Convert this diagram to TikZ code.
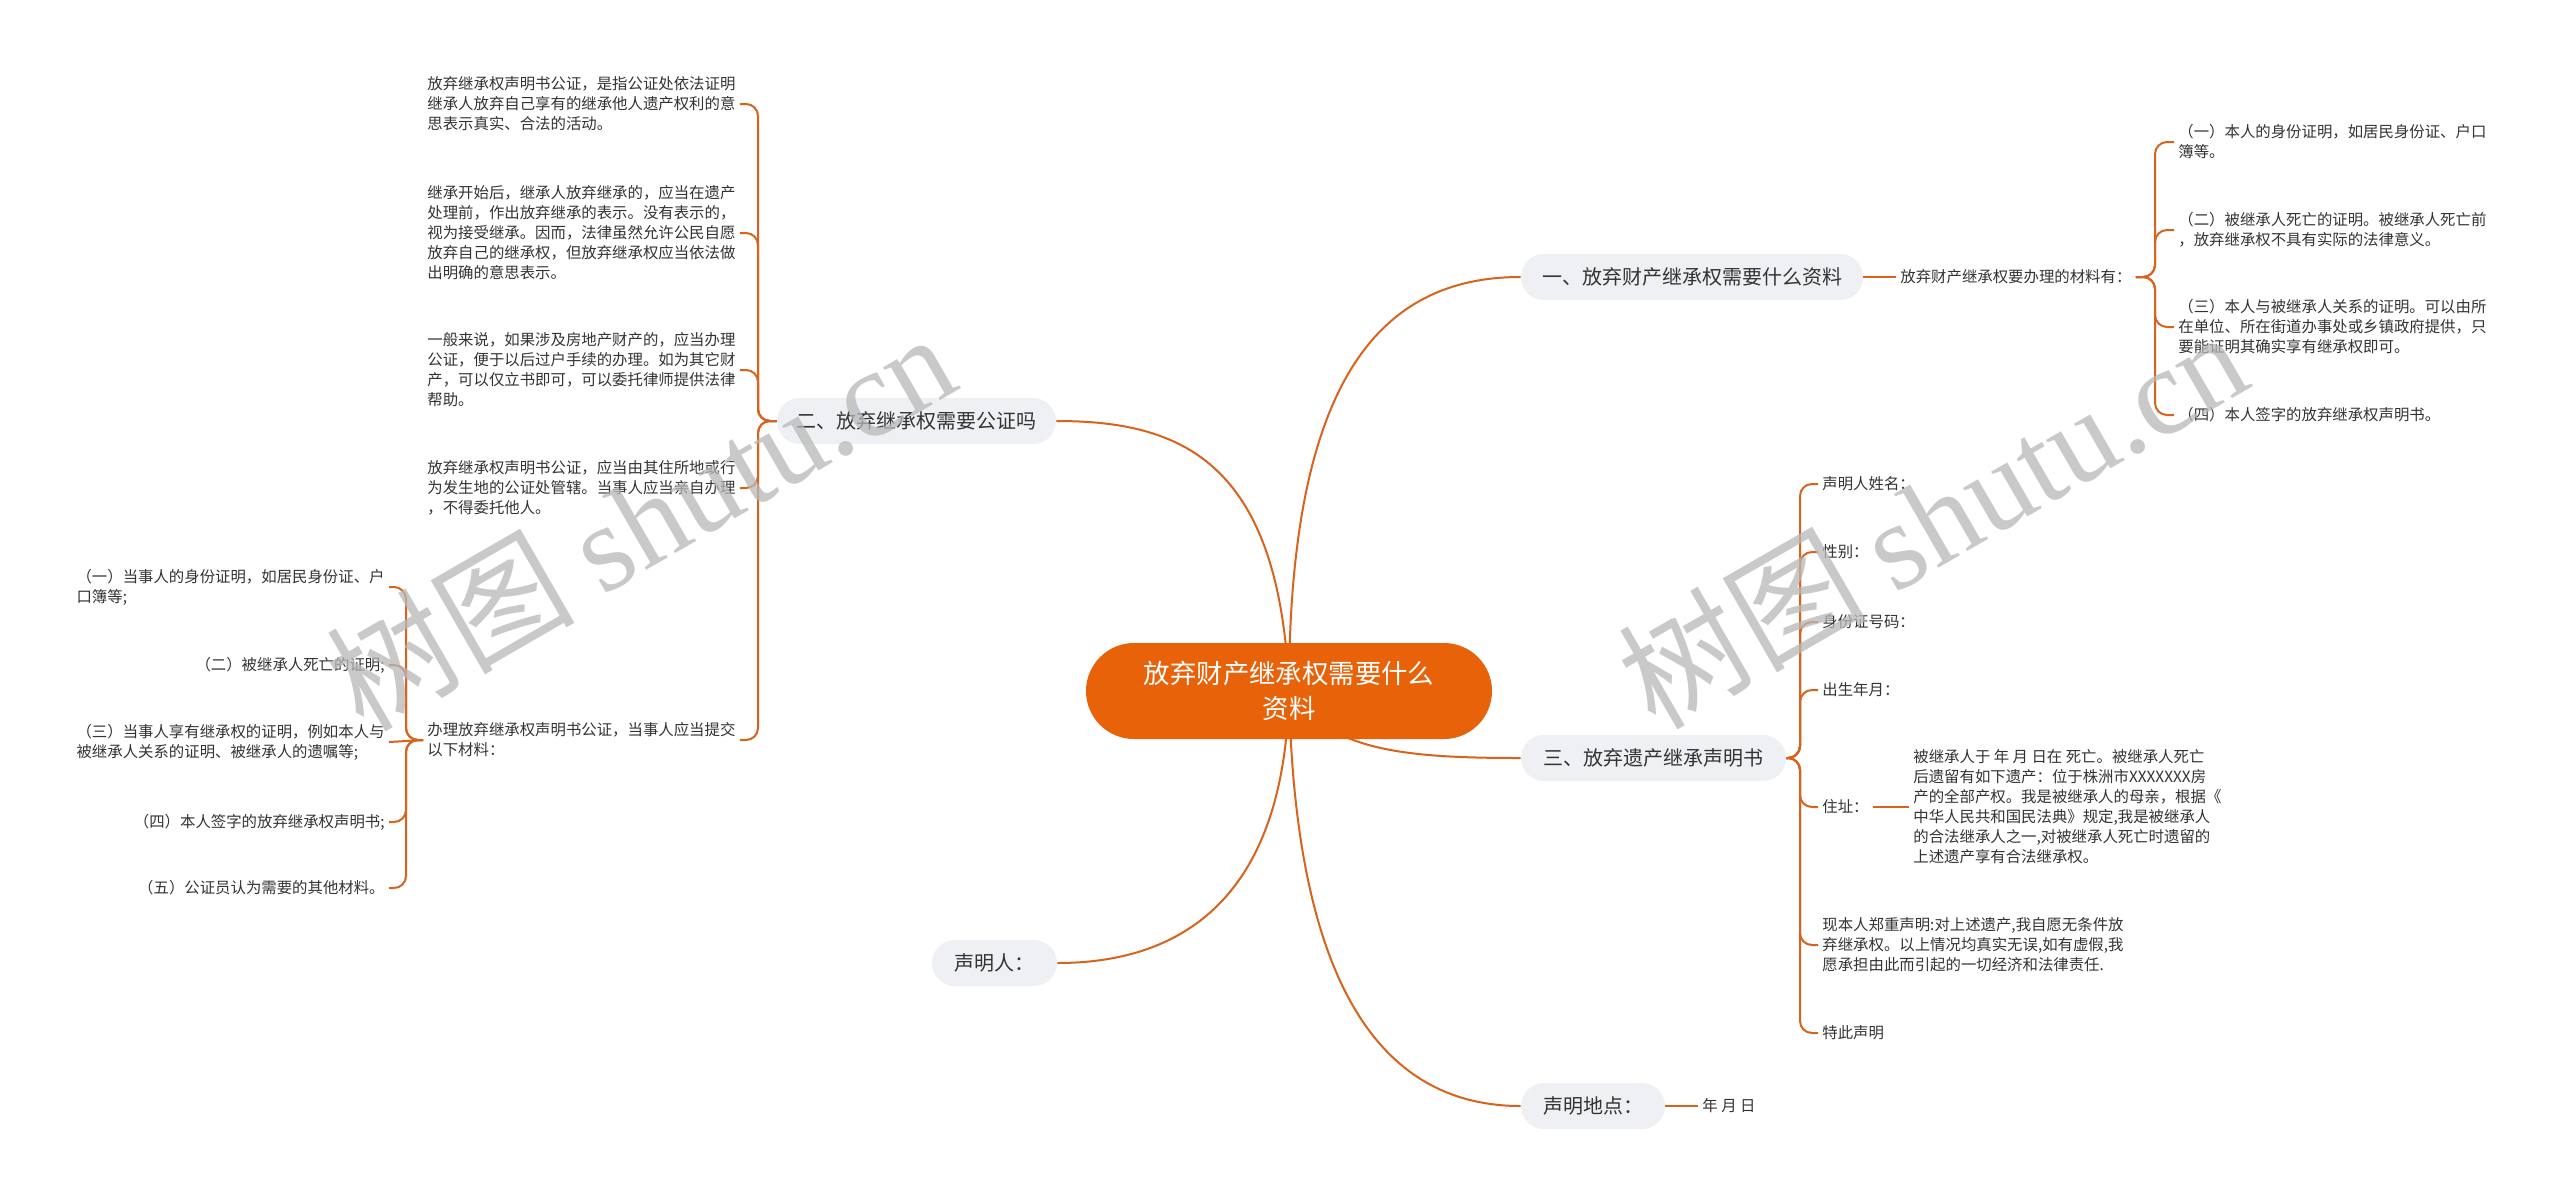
\documentclass[tikz,border=0pt]{standalone}
\usepackage{fontspec}
\setmainfont{Noto Sans CJK SC}
\newfontfamily\wmserif{Liberation Serif}
\usetikzlibrary{backgrounds}
\definecolor{lineor}{HTML}{D9621C}
\definecolor{rootor}{HTML}{E8620A}
\definecolor{boxgray}{HTML}{EEF0F3}
\definecolor{txt}{HTML}{333333}
\begin{document}
\begin{tikzpicture}[x=0.5pt,y=-0.5pt,
  conn/.style={draw=lineor, line width=1pt},
  bracelink/.style={conn, rounded corners=6pt},
  rootnode/.style={fill=rootor, text=white, rounded corners=24pt, minimum height=48pt, minimum width=203pt, align=center, font=\fontsize{13.2}{17.5}\selectfont, inner sep=0pt},
  branch/.style={fill=boxgray, text=txt, rounded corners=11.5pt, minimum height=23pt, inner sep=0pt, font=\fontsize{10}{12}\selectfont},
  leaf/.style={text=txt, inner xsep=2pt, inner ysep=0pt, align=left, font=\fontsize{7.7}{10}\selectfont},
  wmark/.style={rotate=30, text=black!28, text opacity=0.75, font=\fontsize{62}{62}\selectfont},
]
\useasboundingbox (0,0) rectangle (2560,1196);

% root and branches
\node[rootnode] (root) at (1289,691) {放弃财产继承权需要什么\\资料};
\node[branch, minimum width=171pt] (b1) at (1692,277) {一、放弃财产继承权需要什么资料};
\node[branch, minimum width=139.5pt] (b2) at (916.5,421) {二、放弃继承权需要公证吗};
\node[branch, minimum width=132.5pt] (b3) at (1653.5,758) {三、放弃遗产继承声明书};
\node[branch, minimum width=62.5pt] (b4) at (994.5,963) {声明人：};
\node[branch, minimum width=72pt] (b5) at (1593,1106) {声明地点：};

% branch 1
\node[leaf, anchor=west] (a1) at (1896,277) {放弃财产继承权要办理的材料有：};
\node[leaf, anchor=west] (r1) at (2174,142) {（一）本人的身份证明，如居民身份证、户口\\簿等。};
\node[leaf, anchor=west] (r2) at (2174,230) {（二）被继承人死亡的证明。被继承人死亡前\\，放弃继承权不具有实际的法律意义。};
\node[leaf, anchor=west] (r3) at (2174,327) {（三）本人与被继承人关系的证明。可以由所\\在单位、所在街道办事处或乡镇政府提供，只\\要能证明其确实享有继承权即可。};
\node[leaf, anchor=west] (r4) at (2174,415) {（四）本人签字的放弃继承权声明书。};

% branch 2
\node[leaf, anchor=west] (l1) at (423,104) {放弃继承权声明书公证，是指公证处依法证明\\继承人放弃自己享有的继承他人遗产权利的意\\思表示真实、合法的活动。};
\node[leaf, anchor=west] (l2) at (423,233) {继承开始后，继承人放弃继承的，应当在遗产\\处理前，作出放弃继承的表示。没有表示的，\\视为接受继承。因而，法律虽然允许公民自愿\\放弃自己的继承权，但放弃继承权应当依法做\\出明确的意思表示。};
\node[leaf, anchor=west] (l3) at (423,370) {一般来说，如果涉及房地产财产的，应当办理\\公证，便于以后过户手续的办理。如为其它财\\产，可以仅立书即可，可以委托律师提供法律\\帮助。};
\node[leaf, anchor=west] (l4) at (423,488) {放弃继承权声明书公证，应当由其住所地或行\\为发生地的公证处管辖。当事人应当亲自办理\\，不得委托他人。};
\node[leaf, anchor=west] (l5) at (423,740) {办理放弃继承权声明书公证，当事人应当提交\\以下材料：};
\node[leaf, anchor=east] (m1) at (389,587) {（一）当事人的身份证明，如居民身份证、户\\口簿等;};
\node[leaf, anchor=east] (m2) at (389,665) {（二）被继承人死亡的证明;};
\node[leaf, anchor=east] (m3) at (389,742) {（三）当事人享有继承权的证明，例如本人与\\被继承人关系的证明、被继承人的遗嘱等;};
\node[leaf, anchor=east] (m4) at (389,822) {（四）本人签字的放弃继承权声明书;};
\node[leaf, anchor=east] (m5) at (389,888) {（五）公证员认为需要的其他材料。};

% branch 3
\node[leaf, anchor=west] (s1) at (1818,484) {声明人姓名：};
\node[leaf, anchor=west] (s2) at (1818,552) {性别：};
\node[leaf, anchor=west] (s3) at (1818,622) {身份证号码：};
\node[leaf, anchor=west] (s4) at (1818,690) {出生年月：};
\node[leaf, anchor=west] (s5) at (1818,807) {住址：};
\node[leaf, anchor=west] (s6) at (1818,945) {现本人郑重声明:对上述遗产,我自愿无条件放\\弃继承权。以上情况均真实无误,如有虚假,我\\愿承担由此而引起的一切经济和法律责任.};
\node[leaf, anchor=west] (s7) at (1818,1033) {特此声明};
\node[leaf, anchor=west] (t1) at (1909,807) {被继承人于 年 月 日在 死亡。被继承人死亡\\后遗留有如下遗产：位于株洲市XXXXXXX房\\产的全部产权。我是被继承人的母亲，根据《\\中华人民共和国民法典》规定,我是被继承人\\的合法继承人之一,对被继承人死亡时遗留的\\上述遗产享有合法继承权。};

% branch 5
\node[leaf, anchor=west] (d1) at (1698,1106) {年 月 日};

\begin{pgfonlayer}{background}
\fill[white] (0,0) rectangle (2560,1196);
% root connectors
\draw[conn] (root.center) .. controls (1289,380) and (1380,277) .. (b1.west);
\draw[conn] (root.center) .. controls (1280,460) and (1180,421) .. (b2.east);
\draw[conn] (root.center) .. controls (1330,750) and (1400,758) .. (b3.west);
\draw[conn] (root.center) .. controls (1285,900) and (1180,963) .. (b4.east);
\draw[conn] (root.center) .. controls (1295,1000) and (1390,1106) .. (b5.west);
% branch 1
\draw[conn] (b1.east) -- (a1.west);
\foreach \n in {r1,r2,r3,r4} \draw[bracelink] (a1.east) -- (2155,277) |- (\n.west);
% branch 2
\foreach \n in {l1,l2,l3,l4,l5} \draw[bracelink] (b2.west) -- (758,421) |- (\n.east);
\foreach \n in {m1,m2,m4,m5} \draw[bracelink] (l5.west) -- (406,740) |- (\n.east);
\draw[conn] (l5.west) -- (m3.east);
% branch 3
\foreach \n in {s1,s2,s3,s4,s5,s6,s7} \draw[bracelink] (b3.east) -- (1800,758) |- (\n.west);
\draw[conn] (s5.east) -- (t1.west);
% branch 5
\draw[conn] (b5.east) -- (d1.west);
\end{pgfonlayer}

% watermarks
\node[wmark] (w1) at (640,520) {树图 {\wmserif shutu.cn}};
\node[wmark] (w2) at (1932,518) {树图 {\wmserif shutu.cn}};
\end{tikzpicture}
\end{document}
